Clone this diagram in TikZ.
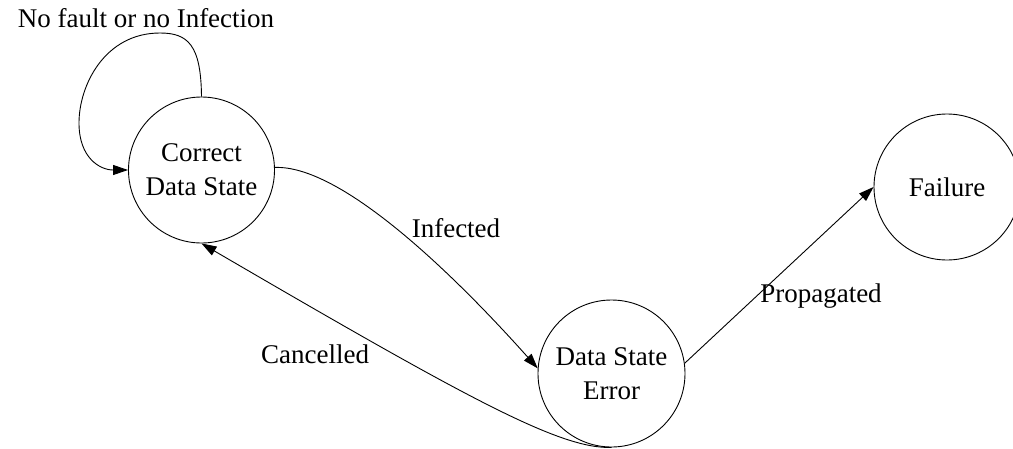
\documentclass[tikz,border=0pt]{standalone}
\usepackage{fontspec}
\setmainfont{Liberation Serif}
\usetikzlibrary{arrows.meta}
\begin{document}
\begin{tikzpicture}[x=1pt,y=-1pt,
  state/.style={circle,draw,line width=0.9pt,inner sep=0pt,align=center,
    font=\fontsize{27}{34}\selectfont},
  edgelabel/.style={anchor=base,inner sep=0pt,font=\fontsize{27}{34}\selectfont},
  trans/.style={line width=0.9pt,-{Triangle[length=15pt,width=10pt]}}]
\useasboundingbox (0,0) rectangle (1013,448);

% states
\node[state,minimum size=146pt] (cds) at (201.5,170) {Correct\\Data State};
\node[state,minimum size=147pt] (dse) at (611.5,373.5) {Data State\\Error};
\node[state,minimum size=146pt] (fail) at (947,187) {Failure};

% self loop on the correct state
\draw[trans] (cds.90) .. controls (201,45) and (188,33) .. (160,33)
  .. controls (105,33) and (79,85) .. (79,123)
  .. controls (79,158) and (100,170) .. (cds.180);
\node[edgelabel] (lloop) at (146,27) {No fault or no Infection};

% infection
\draw[trans] (cds.2) .. controls (340,165) and (450,270) .. (dse.176);
\node[edgelabel] (linf) at (456,237) {Infected};

% cancellation back to the correct state
\draw[trans] (dse.-90) .. controls (560,449) and (470,400) .. (cds.-90);
\node[edgelabel] (lcan) at (315,363) {Cancelled};

% propagation to failure
\draw[trans] (dse.8) -- (fail.180);
\node[edgelabel] (lprop) at (821,302) {Propagated};
\end{tikzpicture}
\end{document}
